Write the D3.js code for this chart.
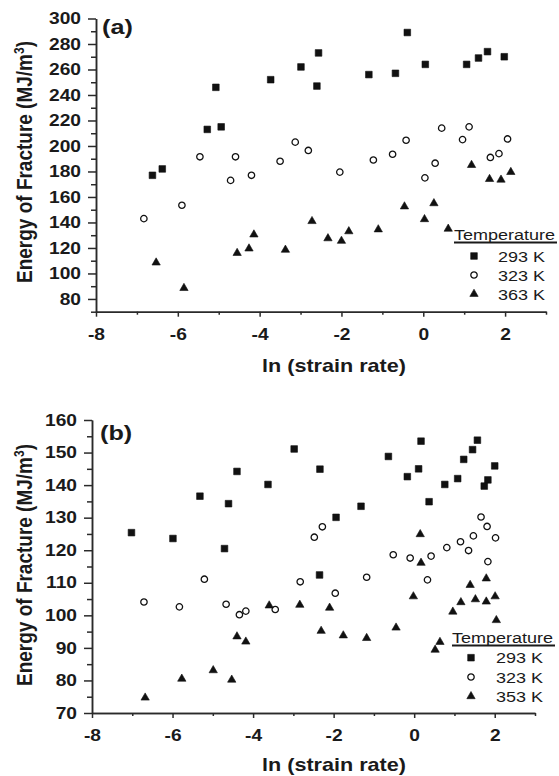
<!DOCTYPE html>
<html>
<head>
<meta charset="utf-8">
<style>
  body { margin: 0; background: #fff; }
  svg text { font-family: "Liberation Sans", Arial, sans-serif; fill: #1a1a1a; }
  .axis path, .axis line { stroke: #2a2a2a; stroke-width: 1.5; }
  .axis .tick text { font-size: 16px; font-weight: bold; }
</style>
</head>
<body>
<svg id="chart" width="559" height="776"></svg>
<script src="https://cdn.jsdelivr.net/npm/d3@7"></script>
<script>
// ---- data: [ln(strain rate), energy of fracture MJ/m3] ----
const a293 = [[-6.62,177],[-6.38,182],[-5.28,213],[-5.07,246],[-4.94,215],[-3.73,252],[-2.99,262],[-2.56,273],[-2.60,247],[-1.33,256],[-0.68,257],[-0.39,289],[0.05,264],[1.06,264],[1.35,269],[1.57,274],[1.98,270]]
const a323 = [[-6.83,143],[-5.90,153.5],[-5.46,191.5],[-4.71,173],[-4.59,191.5],[-4.20,177],[-3.50,188],[-3.13,203],[-2.81,196.5],[-2.04,179.5],[-1.22,189],[-0.75,193.5],[-0.42,204.5],[0.04,175],[0.29,186.5],[0.45,214],[0.96,205],[1.12,215],[1.64,191],[1.85,194],[2.06,205.5]]
const a363 = [[-6.53,108.5],[-5.85,88.5],[-4.55,116],[-4.26,119.5],[-4.14,130.5],[-3.37,118.5],[-2.72,141],[-2.33,127.5],[-2.00,125.5],[-1.82,133],[-1.10,134.5],[-0.46,152.5],[0.03,142.5],[0.26,155],[0.61,135],[1.18,185],[1.62,174],[1.90,173.5],[2.14,179.5]]

const b293 = [[-7.02,125.4],[-5.99,123.6],[-5.32,136.6],[-4.71,120.5],[-4.61,134.3],[-4.40,144.2],[-3.63,140.2],[-2.98,151.1],[-2.34,144.9],[-2.35,112.4],[-1.94,130.1],[-1.32,133.5],[-0.64,148.8],[-0.17,142.6],[0.11,145],[0.17,153.5],[0.37,134.9],[0.76,140.2],[1.08,142],[1.23,147.9],[1.45,150.9],[1.57,153.8],[2.00,145.9],[1.83,141.6],[1.74,139.7]]
const b323 = [[-6.71,104.1],[-5.83,102.6],[-5.21,111.1],[-4.67,103.4],[-4.34,100.2],[-4.18,101.3],[-3.45,101.8],[-2.83,110.3],[-2.48,124],[-2.28,127.2],[-1.96,106.8],[-1.18,111.7],[-0.52,118.6],[-0.10,117.6],[0.33,110.9],[0.42,118.2],[0.81,120.8],[1.15,122.6],[1.35,119.9],[1.47,124.4],[1.66,130.2],[1.81,127.3],[1.83,116.5],[2.02,123.8]]
const b353 = [[-6.68,74.7],[-5.77,80.5],[-4.99,83.1],[-4.53,80.2],[-4.40,93.5],[-4.18,91.9],[-3.60,103],[-2.84,103.2],[-2.31,95.2],[-2.10,102.3],[-1.76,93.8],[-1.18,93],[-0.45,96.2],[-0.02,105.8],[0.15,124.9],[0.17,116.1],[0.52,89.4],[0.64,91.8],[0.96,101.1],[1.16,104],[1.39,109.3],[1.52,104.9],[1.79,111.3],[1.79,104.2],[2.01,105.8],[2.04,98.5]]

const xMajor = [-8, -6, -4, -2, 0, 2]
const xMinor = [-7, -5, -3, -1, 1, 3]
const aYMajor = [80, 100, 120, 140, 160, 180, 200, 220, 240, 260, 280, 300]
const aYMinor = [70, 90, 110, 130, 150, 170, 190, 210, 230, 250, 270, 290]
const bYMajor = [70, 80, 90, 100, 110, 120, 130, 140, 150, 160]
const bYMinor = [75, 85, 95, 105, 115, 125, 135, 145, 155]
const aLegend = ["293 K", "323 K", "363 K"]
const bLegend = ["293 K", "323 K", "353 K"]

const SX = 1.2   // the original picture is stretched horizontally
let svg = d3.select("#chart")

const shapes = [d3.symbolSquare, d3.symbolCircle, d3.symbolTriangle]
const sizes = [44, 32, 30]

function mark(sel, i) {
    sel.attr("d", d3.symbol().type(shapes[i]).size(sizes[i]))
       .attr("fill", i == 1 ? "#fff" : "#111")
       .attr("stroke", "#111")
       .attr("stroke-width", i == 1 ? 1.3 : 0.6)
}

function label(x, y, txt, size, weight, anchor) {
    return svg.append("text")
        .attr("transform", "translate(" + x + "," + y + ") scale(" + SX + ",1)")
        .attr("text-anchor", anchor || "start")
        .style("font-size", size + "px")
        .style("font-weight", weight)
        .text(txt)
}

function panel(p) {
    let x = d3.scaleLinear().domain([-8, 3]).range(p.xr)
    let y = d3.scaleLinear().domain(p.yd).range(p.yr)
    let g = svg.append("g")

    // minor ticks first, then major axis with labels
    g.append("g").attr("class", "axis").attr("transform", "translate(0," + p.yr[0] + ")")
        .call(d3.axisBottom(x).tickValues(xMinor).tickSize(3).tickSizeOuter(0).tickFormat(""))
    g.append("g").attr("class", "axis").attr("transform", "translate(0," + p.yr[0] + ")")
        .call(d3.axisBottom(x).tickValues(xMajor).tickSize(5).tickPadding(12).tickSizeOuter(0).tickFormat(d => String(d)))
        .selectAll("text").attr("transform", "scale(" + SX + ",1)")
    g.append("g").attr("class", "axis").attr("transform", "translate(" + p.xr[0] + ",0)")
        .call(d3.axisLeft(y).tickValues(p.yMinor).tickSize(5).tickSizeOuter(0).tickFormat(""))
    g.append("g").attr("class", "axis").attr("transform", "translate(" + p.xr[0] + ",0)")
        .call(d3.axisLeft(y).tickValues(p.yMajor).tickSize(8).tickSizeOuter(0).tickFormat(d => String(d)))
        .selectAll("text").attr("x", -15 / SX).attr("transform", "scale(" + SX + ",1)")

    // points
    p.series.forEach((s, i) => {
        g.selectAll(null).data(s).enter().append("path")
            .attr("transform", d => "translate(" + x(d[0]) + "," + y(d[1]) + ")")
            .call(mark, i)
    })

    // titles
    label(p.xt[0], p.xt[1], "ln (strain rate)", 18, "bold", "middle")
    let yt = svg.append("text")
        .attr("transform", "translate(" + p.yt[0] + "," + p.yt[1] + ") scale(" + SX + ",1) rotate(-90)")
        .attr("text-anchor", "middle")
        .style("font-size", "19px").style("font-weight", "bold")
    yt.append("tspan").text("Energy of Fracture (MJ/m")
    yt.append("tspan").text("3").attr("dy", -7).style("font-size", "12px")
    yt.append("tspan").text(")").attr("dy", 7)
    label(p.pl[0], p.pl[1], p.name, 21, "bold")

    // legend
    let lg = p.lg
    label(lg.x, lg.y, "Temperature", 15, "normal")
    svg.append("line").attr("x1", lg.x).attr("x2", lg.x + 103)
        .attr("y1", lg.y + 2.5).attr("y2", lg.y + 2.5)
        .attr("stroke", "#1a1a1a").attr("stroke-width", 2)
    p.names.forEach((n, i) => {
        svg.append("path").attr("transform", "translate(" + lg.mx + "," + (lg.my + i * lg.dy) + ")").call(mark, i)
        label(lg.tx, lg.my + i * lg.dy + 5.5, n, 15, "normal")
    })
}

panel({
    name: "(a)", xr: [96, 546], yr: [311.7, 18.5], yd: [70, 300],
    yMajor: aYMajor, yMinor: aYMinor, series: [a293, a323, a363], names: aLegend,
    xt: [334, 372], yt: [32, 162], pl: [102, 34],
    lg: { x: 454, y: 240, mx: 474, my: 256, dy: 19, tx: 498 }
})
panel({
    name: "(b)", xr: [92, 535], yr: [713, 420], yd: [70, 160],
    yMajor: bYMajor, yMinor: bYMinor, series: [b293, b323, b353], names: bLegend,
    xt: [334, 771], yt: [32, 565], pl: [100, 440],
    lg: { x: 452, y: 643, mx: 471, my: 657.7, dy: 19.3, tx: 496 }
})
</script>
</body>
</html>
